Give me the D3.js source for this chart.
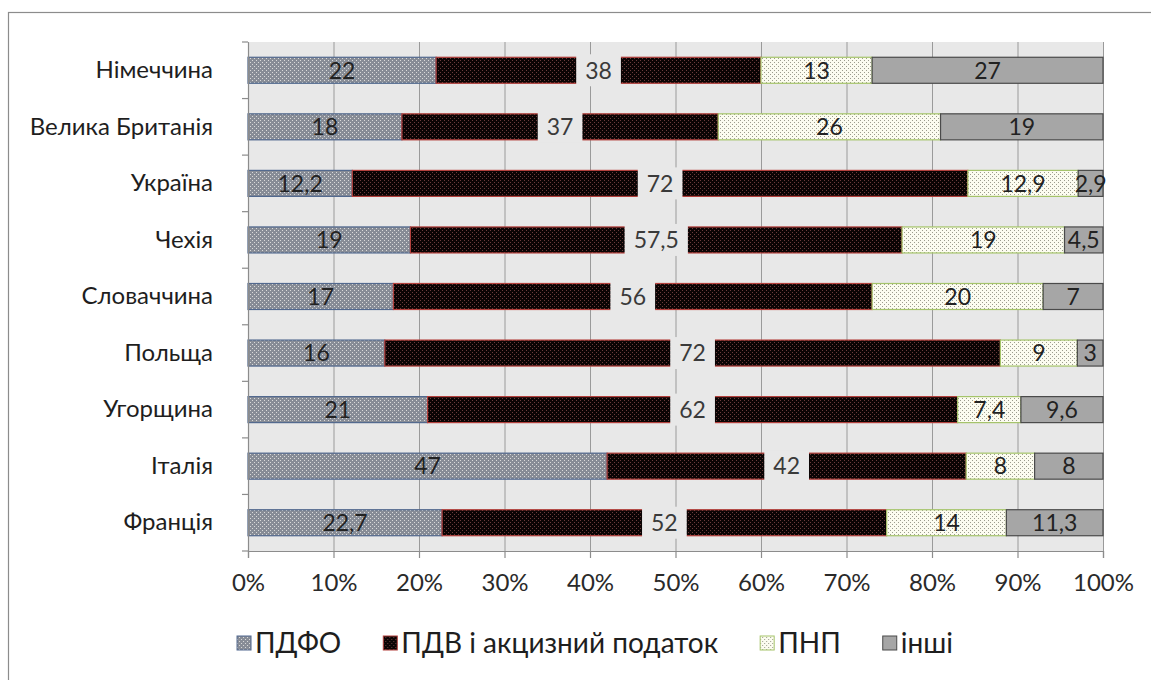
<!DOCTYPE html>
<html>
<head>
<meta charset="utf-8">
<script src="https://cdn.jsdelivr.net/npm/d3@7"></script>
<style>
  html, body { margin: 0; padding: 0; background: #ffffff; }
  svg { display: block; font-family: Lato, "Open Sans", sans-serif; }
</style>
</head>
<body>
<svg id="chart" width="1151" height="680"></svg>
<script>
// ---- data ----
const categories = ["Німеччина", "Велика Британія", "Україна", "Чехія", "Словаччина", "Польща", "Угорщина", "Італія", "Франція"];
const seriesNames = ["ПДФО", "ПДВ і акцизний податок", "ПНП", "інші"];
const pdfo  = [22, 18, 12.2, 19, 17, 16, 21, 42, 22.7];
const pdv   = [38, 37, 72, 57.5, 56, 72, 62, 42, 52];
const pnp   = [13, 26, 12.9, 19, 20, 9, 7.4, 8, 14];
const inshi = [27, 19, 2.9, 4.5, 7, 3, 9.6, 8, 11.3];
// the printed label of Italy's ПДФО segment reads "47" in the source although the bar is drawn at 42
const labelOverrides = { "ПДФО|Італія": "47" };
const tickValues = [0, 0.1, 0.2, 0.3, 0.4, 0.5, 0.6, 0.7, 0.8, 0.9, 1.0];

// ---- setup ----
const svg = d3.select("#chart");
const W = 1151, H = 680;
const plot = { left: 248, right: 1103, top: 42, bottom: 551 };

const rows = categories.map((c, i) => ({
  cat: c,
  "ПДФО": pdfo[i],
  "ПДВ і акцизний податок": pdv[i],
  "ПНП": pnp[i],
  "інші": inshi[i]
}));

const stack = d3.stack().keys(seriesNames).offset(d3.stackOffsetExpand);
const stacked = stack(rows);

const x = d3.scaleLinear().domain([0, 1]).range([plot.left, plot.right]);
const y = d3.scaleBand().domain(categories).range([plot.top, plot.bottom])
  .paddingInner(0.54).paddingOuter(0.27);

// ---- patterns ----
const defs = svg.append("defs");
function dotPattern(id, base, dot) {
  const p = defs.append("pattern").attr("id", id).attr("patternUnits", "userSpaceOnUse")
    .attr("width", 4).attr("height", 4);
  p.append("rect").attr("width", 4).attr("height", 4).attr("fill", base);
  p.append("rect").attr("x", 0).attr("y", 0).attr("width", 1).attr("height", 1).attr("fill", dot);
  p.append("rect").attr("x", 2).attr("y", 2).attr("width", 1).attr("height", 1).attr("fill", dot);
}
dotPattern("p-pdfo", "#878c96", "#dadada");
dotPattern("p-pdv", "#0b0404", "#6a3c3c");
dotPattern("p-pnp", "#fcfcf0", "#9c9c8e");

const fills = { "ПДФО": "url(#p-pdfo)", "ПДВ і акцизний податок": "url(#p-pdv)", "ПНП": "url(#p-pnp)", "інші": "#a6a6a6" };
const strokes = { "ПДФО": "#52698f", "ПДВ і акцизний податок": "#b4403c", "ПНП": "#a5c46a", "інші": "#4a4a4a" };

// ---- outer chart frame ----
svg.append("rect").attr("x", 8.5).attr("y", 12.5).attr("width", 1200).attr("height", 720)
  .attr("fill", "#ffffff").attr("stroke", "#8c8c8c").attr("stroke-width", 1.2);

// ---- plot background ----
svg.append("rect").attr("x", plot.left).attr("y", plot.top)
  .attr("width", plot.right - plot.left).attr("height", plot.bottom - plot.top)
  .attr("fill", "#e8e8e8");

// ---- gridlines ----
svg.append("g").attr("transform", `translate(0,${plot.bottom})`)
  .call(d3.axisBottom(x).tickValues(tickValues).tickSize(-(plot.bottom - plot.top)).tickFormat(""))
  .call(g => g.select(".domain").remove())
  .call(g => g.selectAll("line").attr("stroke", "#9a9a9a").attr("stroke-width", 1));

// ---- bars ----
const gSeries = svg.append("g").selectAll("g").data(stacked).join("g");
gSeries.selectAll("rect").data(s => s.map(d => ({ key: s.key, d })))
  .join("rect")
  .attr("x", o => x(o.d[0]))
  .attr("y", o => y(o.d.data.cat))
  .attr("width", o => x(o.d[1]) - x(o.d[0]))
  .attr("height", y.bandwidth())
  .attr("fill", o => fills[o.key])
  .attr("stroke", o => strokes[o.key])
  .attr("stroke-width", 1.2);

// ---- data labels ----
const fmt = v => String(v).replace(".", ",");
const gLabels = svg.append("g").attr("font-size", 23);
stacked.forEach(s => {
  s.forEach(d => {
    const key = s.key + "|" + d.data.cat;
    const txt = labelOverrides[key] || fmt(d.data[s.key]);
    const cx = (x(d[0]) + x(d[1])) / 2;
    const cy = y(d.data.cat) + y.bandwidth() / 2;
    const g = gLabels.append("g");
    const t = g.append("text").attr("x", cx).attr("y", cy).attr("dy", "0.36em")
      .attr("text-anchor", "middle")
      .attr("fill", s.key === "ПДВ і акцизний податок" ? "#3a3a3a" : "#222222")
      .text(txt);
    if (s.key === "ПДВ і акцизний податок") {
      const w = t.node().getComputedTextLength() + 18;
      g.insert("rect", "text").attr("x", cx - w / 2).attr("y", cy - 16)
        .attr("width", w).attr("height", 32).attr("fill", "#e8e8e8");
    }
  });
});

// ---- x axis ----
const xAxis = svg.append("g").attr("transform", `translate(0,${plot.bottom})`)
  .call(d3.axisBottom(x).tickValues(tickValues).tickFormat(d3.format(".0%")).tickSize(7).tickPadding(16));
xAxis.select(".domain").attr("stroke", "#8c8c8c").attr("stroke-width", 1.2);
xAxis.selectAll(".tick line").attr("stroke", "#8c8c8c").attr("stroke-width", 1.2);
xAxis.selectAll("text").attr("font-size", 24).attr("fill", "#2a2a2a").attr("font-family", "Lato, sans-serif");

// ---- y axis ----
const yAxis = svg.append("g").attr("transform", `translate(${plot.left},0)`)
  .call(d3.axisLeft(y).tickSize(0).tickPadding(35));
yAxis.select(".domain").attr("stroke", "#8c8c8c").attr("stroke-width", 1.2);
yAxis.selectAll("text").attr("font-size", 24).attr("fill", "#1e1e1e").attr("font-family", "Lato, sans-serif");
// tick marks at band boundaries
const bounds = categories.map(c => y(c) - y.step() * y.paddingInner() / 2).concat([plot.bottom]);
yAxis.selectAll("line.bound").data(bounds).join("line").attr("class", "bound")
  .attr("x1", -6).attr("x2", 0).attr("y1", d => d).attr("y2", d => d)
  .attr("stroke", "#8c8c8c").attr("stroke-width", 1.2);

// ---- legend ----
const legend = svg.append("g").attr("font-size", 28).attr("fill", "#1e1e1e");
const gap = 42;
let cursor = 0;
seriesNames.forEach(n => {
  const g = legend.append("g");
  g.append("rect").attr("x", 0).attr("y", -7).attr("width", 14).attr("height", 14)
    .attr("fill", fills[n]).attr("stroke", strokes[n]).attr("stroke-width", 1);
  const t = g.append("text").attr("x", 18).attr("y", 0).attr("dy", "0.35em").text(n);
  const w = 18 + t.node().getComputedTextLength();
  g.attr("transform", `translate(${cursor},0)`);
  cursor += w + gap;
});
const totalW = cursor - gap;
legend.attr("transform", `translate(${595 - totalW / 2},643)`);
</script>
</body>
</html>
